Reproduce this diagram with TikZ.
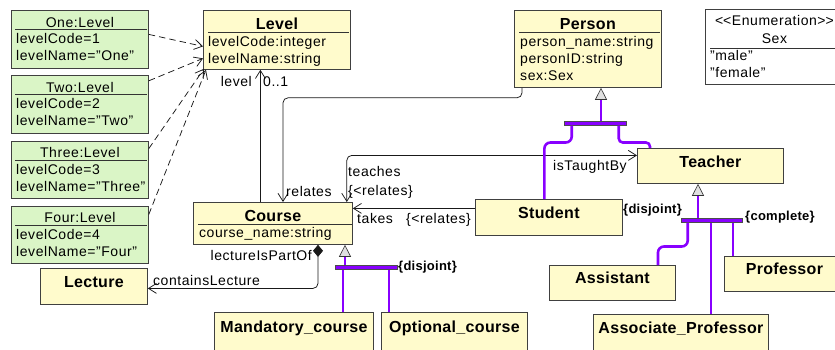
\documentclass[tikz,border=0pt]{standalone}
\usepackage{fontspec}
\setmainfont{Liberation Sans}
\usepackage{tikz}
\usetikzlibrary{positioning,arrows.meta}
\definecolor{clsyellow}{RGB}{255,251,204}
\definecolor{instgreen}{RGB}{218,245,198}
\definecolor{genpurple}{RGB}{136,0,255}
\newcommand{\umlattr}{\fontsize{14}{17}\selectfont\addfontfeature{LetterSpace=4}}
\newcommand{\umltitle}{\fontsize{16}{17}\selectfont\bfseries\addfontfeature{LetterSpace=2}}
\newcommand{\umlcons}{\fontsize{13}{14}\selectfont\bfseries\addfontfeature{LetterSpace=2}}

\begin{document}
\begin{tikzpicture}[x=1pt, y=-1pt,
		cls/.style={rectangle, draw=black!75, fill=clsyellow, line width=0.8pt, anchor=north west, inner sep=0pt},
		inst/.style={cls, fill=instgreen, minimum width=137pt, minimum height=57.5pt},
		enum/.style={cls, fill=white},
		title/.style={anchor=base, inner sep=0pt, font=\umltitle},
		ititle/.style={anchor=base, inner sep=0pt, font=\umlattr},
		attr/.style={anchor=base west, inner sep=0pt, font=\umlattr},
		lbl/.style={anchor=base west, inner sep=0pt, font=\umlattr},
		cons/.style={anchor=base west, inner sep=0pt, font=\umlcons},
		sep/.style={draw=black!80, line width=0.9pt},
		assoc/.style={draw=black!90, line width=0.75pt},
		real/.style={assoc, dash pattern=on 6.5pt off 4pt},
		genline/.style={draw=genpurple, line width=2.6pt},
		genbar/.style={rectangle, fill=genpurple, draw=black!70, line width=0.5pt, minimum height=4.5pt, inner sep=0pt},
		gen/.style={genline, -{Triangle[length=12pt, width=12pt, fill=black!12, color=black!80, line width=0.6pt]}},
		>={Straight Barb[length=8pt, width=10pt]},
		]
		\useasboundingbox (0,0) rectangle (835,349);
		\clip (0,0) rectangle (835,349);

		%Level Instances
		\node[inst]	(one)	at (11,10)	{};
		\node[inst]	(two)	[below=7pt of one]	{};
		\node[inst]	(three)	[below=7pt of two]	{};
		\node[inst]	(four)	[below=7pt of three]	{};
		\node[ititle]	(one_t)		at ([yshift=-17]one.north)	{One:Level};
		\node[attr]	(one_a1)	at ([xshift=5,yshift=-33.5]one.north west)	{levelCode=1};
		\node[attr]	(one_a2)	at ([xshift=5,yshift=-50.5]one.north west)	{levelName="One"};
		\draw[sep]	([xshift=4,yshift=-19.5]one.north west) -- ([xshift=-2,yshift=-19.5]one.north east);
		\node[ititle]	(two_t)		at ([yshift=-17]two.north)	{Two:Level};
		\node[attr]	(two_a1)	at ([xshift=5,yshift=-33.5]two.north west)	{levelCode=2};
		\node[attr]	(two_a2)	at ([xshift=5,yshift=-50.5]two.north west)	{levelName="Two"};
		\draw[sep]	([xshift=4,yshift=-19.5]two.north west) -- ([xshift=-2,yshift=-19.5]two.north east);
		\node[ititle]	(three_t)	at ([yshift=-17]three.north)	{Three:Level};
		\node[attr]	(three_a1)	at ([xshift=5,yshift=-33.5]three.north west)	{levelCode=3};
		\node[attr]	(three_a2)	at ([xshift=5,yshift=-50.5]three.north west)	{levelName="Three"};
		\draw[sep]	([xshift=4,yshift=-19.5]three.north west) -- ([xshift=-2,yshift=-19.5]three.north east);
		\node[ititle]	(four_t)	at ([yshift=-17]four.north)	{Four:Level};
		\node[attr]	(four_a1)	at ([xshift=5,yshift=-33.5]four.north west)	{levelCode=4};
		\node[attr]	(four_a2)	at ([xshift=5,yshift=-50.5]four.north west)	{levelName="Four"};
		\draw[sep]	([xshift=4,yshift=-19.5]four.north west) -- ([xshift=-2,yshift=-19.5]four.north east);

		%Main Classes
		\node[cls, minimum width=147pt, minimum height=59pt]	(level)	at (203,10)	{};
		\node[title]	(level_t)	at ([yshift=-19]level.north)	{Level};
		\node[attr]	(level_a1)	at ([xshift=5,yshift=-36]level.north west)	{levelCode:integer};
		\node[attr]	(level_a2)	at ([xshift=5,yshift=-53]level.north west)	{levelName:string};
		\draw[sep]	([xshift=5,yshift=-22]level.north west) -- ([xshift=-2,yshift=-22]level.north east);

		\node[cls, minimum width=147pt, minimum height=77pt]	(person)	at (514,10)	{};
		\node[title]	(person_t)	at ([yshift=-19]person.north)	{Person};
		\node[attr]	(person_a1)	at ([xshift=6,yshift=-36]person.north west)	{person\_name:string};
		\node[attr]	(person_a2)	at ([xshift=6,yshift=-53]person.north west)	{personID:string};
		\node[attr]	(person_a3)	at ([xshift=6,yshift=-70]person.north west)	{sex:Sex};
		\draw[sep]	([xshift=5,yshift=-22]person.north west) -- ([xshift=-2,yshift=-22]person.north east);

		\node[enum, minimum width=138pt, minimum height=75pt]	(sex)	at (705,9)	{};
		\node[ititle]	(sex_s)	at ([yshift=-16]sex.north)	{<\kern0pt<Enumeration>\kern0pt>};
		\node[ititle]	(sex_t)	at ([yshift=-34]sex.north)	{Sex};
		\node[attr]	(sex_a1)	at ([xshift=5,yshift=-51]sex.north west)	{"male"};
		\node[attr]	(sex_a2)	at ([xshift=5,yshift=-68]sex.north west)	{"female"};
		\draw[sep]	([xshift=5,yshift=-39]sex.north west) -- ([yshift=-39]sex.north east);

		\node[cls, minimum width=159pt, minimum height=42pt]	(course)	at (193,202)	{};
		\node[title]	(course_t)	at ([yshift=-19]course.north)	{Course};
		\node[attr]	(course_a1)	at ([xshift=6,yshift=-35]course.north west)	{course\_name:string};
		\draw[sep]	([xshift=5,yshift=-22]course.north west) -- ([xshift=-1,yshift=-22]course.north east);

		%Subclasses
		\node[cls, minimum width=146pt, minimum height=35pt]	(teacher)	at (637,148)	{};
		\node[title]	(teacher_t)	at ([yshift=-19]teacher.north)	{Teacher};
		\node[cls, minimum width=147pt, minimum height=36pt]	(student)	at (475,199)	{};
		\node[title]	(student_t)	at ([yshift=-19]student.north)	{Student};
		\node[cls, minimum width=107pt, minimum height=36pt]	(lecture)	at (40,268)	{};
		\node[title]	(lecture_t)	at ([yshift=-19]lecture.north)	{Lecture};
		\node[cls, minimum width=159pt, minimum height=45pt]	(mandatory)	at (214,312)	{};
		\node[title]	(mandatory_t)	at ([yshift=-20]mandatory.north)	{Mandatory\_course};
		\node[cls, minimum width=146pt, minimum height=45pt]	(optional)	at (381,312)	{};
		\node[title]	(optional_t)	at ([yshift=-20]optional.north)	{Optional\_course};
		\node[cls, minimum width=126pt, minimum height=35pt]	(assistant)	at (549,265)	{};
		\node[title]	(assistant_t)	at ([yshift=-18]assistant.north)	{Assistant};
		\node[cls, minimum width=120pt, minimum height=35pt]	(professor)	at (724,256)	{};
		\node[title]	(professor_t)	at ([yshift=-18]professor.north)	{Professor};
		\node[cls, minimum width=175pt, minimum height=45pt]	(associate)	at (593,314)	{};
		\node[title]	(associate_t)	at ([yshift=-19]associate.north)	{Associate\_Professor};

		%Instance-of Lines
		\draw[real, ->]	([yshift=4.75]one.east)	--	([yshift=-6.5]level.west);
		\draw[real, ->]	([yshift=-5.5]two.north east)	--	([yshift=-18.5]level.west);
		\draw[real, ->]	([yshift=-8]three.north east)	--	([xshift=1,yshift=1]level.south west);
		\draw[real, ->]	([yshift=-8.5]four.north east)	--	([xshift=3]level.south west);

		%Associations
		\draw[assoc, ->]	([xshift=-12.5]course.north)	--	([xshift=-12.5]course.north |- level.south);
		\node[lbl, anchor=base east]	(lbl_level)	at (252,86)	{level};
		\node[lbl]	(lbl_mult)	at (263,86)	{0..1};
		\draw[assoc, ->, rounded corners=5pt]	([xshift=8]person.south west) -- ++(0,10) -| ([xshift=90]course.north west);
		\node[lbl]	(lbl_relates)	at (286,196)	{relates};
		\draw[assoc, <->, rounded corners=5pt]	([yshift=10.5]teacher.west) -| ([xshift=-6]course.north east);
		\node[lbl]	(lbl_teaches)	at (348,176)	{teaches};
		\node[lbl]	(lbl_teaches_c)	at (348,195)	{\{<relates\}};
		\node[lbl]	(lbl_taught)	at (553,170)	{isTaughtBy};
		\draw[assoc, ->]	([yshift=9]student.west)	--	([yshift=9]student.west -| course.east);
		\node[lbl]	(lbl_takes)	at (357,223)	{takes};
		\node[lbl]	(lbl_takes_c)	at (406,223)	{\{<relates\}};
		\draw[assoc, {Diamond[length=12pt, width=10pt]}->, rounded corners=5pt]	([xshift=125]course.south west) |- ([yshift=-2]lecture.east);
		\node[lbl, anchor=base east]	(lbl_partof)	at (312,260)	{lectureIsPartOf};
		\node[lbl]	(lbl_contains)	at (153,285)	{containsLecture};

		%Generalizations
		\node[genbar, minimum width=62pt]	(course_gen)	at (366,267)	{};
		\node[genbar, minimum width=62pt]	(person_gen)	at (595,123)	{};
		\node[genbar, minimum width=61pt]	(teacher_gen)	at (711.5,220)	{};
		\draw[gen]	([xshift=152]course.south west |- course_gen.north)	--	([xshift=152]course.south west);
		\draw[genline]	([xshift=129]mandatory.north west |- course_gen.south)	--	([xshift=129]mandatory.north west);
		\draw[genline]	([xshift=8]optional.north west |- course_gen.south)	--	([xshift=8]optional.north west);
		\node[cons]	(course_dis)	at (398,270)	{\{disjoint\}};

		\draw[gen]	([xshift=87]person.south west |- person_gen.north)	--	([xshift=87]person.south west);
		\draw[genline, rounded corners=6pt]	([xshift=8]person_gen.south west) -- ++(0,17) -| ([xshift=-4.5]student.north);
		\draw[genline, rounded corners=4pt]	([xshift=55]person_gen.south west) -- ++(0,17) -| ([xshift=13]teacher.north west);
		\node[cons]	(person_dis)	at (623,213)	{\{disjoint\}};

		\draw[gen]	([xshift=61]teacher.south west |- teacher_gen.north)	--	([xshift=61]teacher.south west);
		\draw[genline, rounded corners=6pt]	([xshift=7]teacher_gen.south west) -- ++(0,24) -| ([xshift=109]assistant.north west);
		\draw[genline]	([xshift=118]associate.north west |- teacher_gen.south)	--	([xshift=118]associate.north west);
		\draw[genline]	([xshift=9]professor.north west |- teacher_gen.south)	--	([xshift=9]professor.north west);
		\node[cons]	(teacher_com)	at (745,220)	{\{complete\}};

	\end{tikzpicture}
\end{document}
